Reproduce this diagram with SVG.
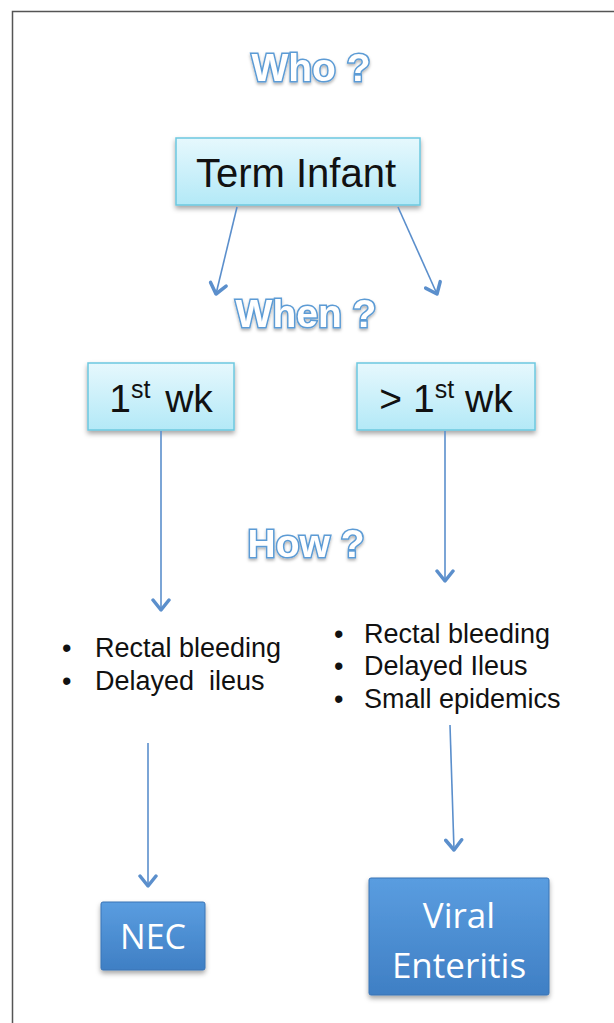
<svg xmlns="http://www.w3.org/2000/svg" width="614" height="1023" viewBox="0 0 614 1023">
<defs>
<linearGradient id="cyan" x1="0" y1="0" x2="0" y2="1">
<stop offset="0" stop-color="#e6f8fd"/><stop offset="1" stop-color="#b3e9f7"/>
</linearGradient>
<linearGradient id="blue" x1="0" y1="0" x2="0" y2="1">
<stop offset="0" stop-color="#5a9de0"/><stop offset="1" stop-color="#3f7fc4"/>
</linearGradient>
<filter id="sh" x="-20%" y="-20%" width="140%" height="150%">
<feDropShadow dx="0" dy="3" stdDeviation="2.5" flood-color="#000" flood-opacity="0.35"/>
</filter>
<filter id="tsh" x="-10%" y="-20%" width="120%" height="150%">
<feDropShadow dx="0" dy="2" stdDeviation="1.5" flood-color="#000" flood-opacity="0.3"/>
</filter>
<marker id="ah" viewBox="0 0 20 20" refX="17" refY="10" markerWidth="20" markerHeight="20" markerUnits="userSpaceOnUse" orient="auto">
<path d="M7,2 L17,10 L7,18" fill="none" stroke="#5b8fcc" stroke-width="3.5" stroke-linecap="round" stroke-linejoin="round"/>
</marker>
</defs>
<style>
.q{font-family:"Liberation Sans",Arial,sans-serif;font-weight:bold;font-size:39px;fill:#ffffff;stroke:#5b9bd5;stroke-width:3px;paint-order:stroke;text-anchor:middle}
.cb{fill:url(#cyan);stroke:#6cc8df;stroke-width:1.5}
.bb{fill:url(#blue);stroke:#3a74b5;stroke-width:1}
.bt{font-family:"Liberation Sans",Arial,sans-serif;fill:#111;text-anchor:middle}
.wt{font-family:"Open Sans","Liberation Sans",sans-serif;fill:#fff;text-anchor:middle}
.li{font-family:"Liberation Sans",Arial,sans-serif;font-size:27px;fill:#111}
.cn{stroke:#5b8fcc;stroke-width:1.6;fill:none;marker-end:url(#ah)}
</style>
<rect width="614" height="1023" fill="#fff"/>
<path d="M12.5,1023 V11.5 H614" fill="none" stroke="#555" stroke-width="1.5"/>

<g id="who"><text class="q" x="311" y="81" filter="url(#tsh)">Who ?</text></g>
<g id="when"><text class="q" x="306" y="327" filter="url(#tsh)">When ?</text></g>
<g id="how"><text class="q" x="306" y="557" filter="url(#tsh)">How ?</text></g>

<g id="term-infant">
<rect class="cb" x="176" y="138" width="244" height="67" filter="url(#sh)"/>
<text class="bt" x="296" y="187" font-size="40">Term Infant</text>
</g>
<g id="first-wk">
<rect class="cb" x="88" y="363" width="146" height="67" filter="url(#sh)"/>
<text class="bt" x="161" y="412" font-size="39">1<tspan font-size="25" dy="-14">st</tspan><tspan dy="14" dx="4"> wk</tspan></text>
</g>
<g id="after-first-wk">
<rect class="cb" x="357" y="363" width="178" height="67" filter="url(#sh)"/>
<text class="bt" x="446" y="412" font-size="39">&gt; 1<tspan font-size="25" dy="-14">st</tspan><tspan dy="14"> wk</tspan></text>
</g>

<g id="list-left" class="li">
<text x="62" y="657">•</text><text x="95" y="657">Rectal bleeding</text>
<text x="62" y="690">•</text><text x="95" y="690">Delayed&#160; ileus</text>
</g>
<g id="list-right" class="li">
<text x="334" y="643">•</text><text x="364" y="643">Rectal bleeding</text>
<text x="334" y="675">•</text><text x="364" y="675">Delayed Ileus</text>
<text x="334" y="708">•</text><text x="364" y="708">Small epidemics</text>
</g>

<g id="nec">
<rect class="bb" x="101" y="902" width="104" height="68" rx="2" filter="url(#sh)"/>
<text class="wt" x="153" y="949" font-size="34">NEC</text>
</g>
<g id="viral-enteritis">
<rect class="bb" x="369" y="878" width="180" height="117" rx="2" filter="url(#sh)"/>
<text class="wt" x="459" y="928" font-size="35">Viral</text>
<text class="wt" x="459" y="978" font-size="35">Enteritis</text>
</g>

<g id="connectors">
<line class="cn" x1="237" y1="207" x2="216" y2="294"/>
<line class="cn" x1="398" y1="207" x2="437" y2="294"/>
<line class="cn" x1="161" y1="431" x2="161" y2="610"/>
<line class="cn" x1="445" y1="431" x2="445" y2="581"/>
<line class="cn" x1="148" y1="743" x2="148" y2="886"/>
<line class="cn" x1="450" y1="725" x2="454" y2="850"/>
</g>
</svg>
